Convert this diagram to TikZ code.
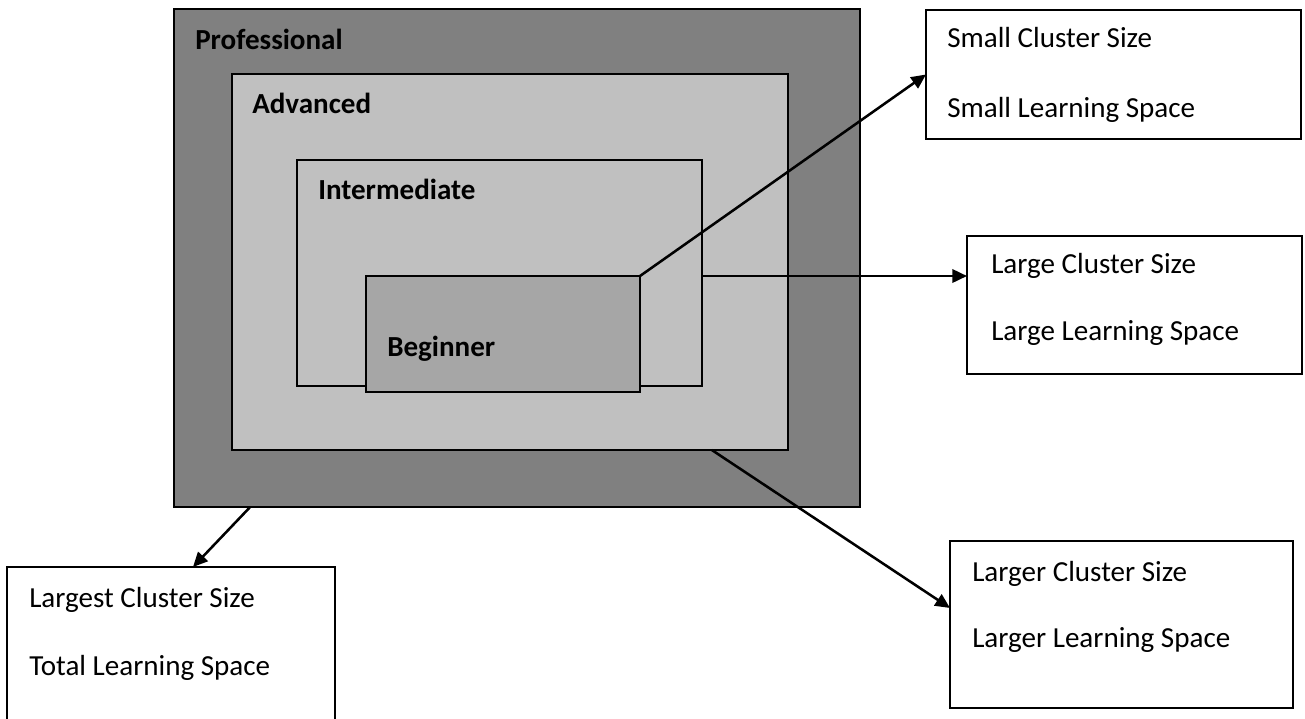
\documentclass[tikz,border=0pt]{standalone}
\usepackage{fontspec}
\setmainfont{Carlito}
\usetikzlibrary{fit,calc,arrows.meta}
\definecolor{profgray}{HTML}{808080}
\definecolor{advgray}{HTML}{C0C0C0}
\definecolor{beggray}{HTML}{A6A6A6}
\tikzset{
  box/.style={draw=black, line width=1.7pt, inner sep=0pt, outer sep=0pt, rectangle},
  lbl/.style={anchor=base west, inner sep=0pt, font=\fontsize{21.8}{26}\selectfont},
  blbl/.style={lbl, font=\fontsize{21.8}{26}\selectfont\bfseries},
  conn/.style={line width=1.9pt, -{Triangle[length=11pt,width=10pt]}}
}
\begin{document}
\begin{tikzpicture}[x=0.75pt, y=-0.75pt]
\useasboundingbox (0,0) rectangle (1305,718);
\clip (0,0) rectangle (1305,718);
% nested levels
\node[box, fill=profgray, fit={(174,9) (860,507)}] (prof) {};
\node[box, fill=advgray, fit={(232,74) (788,450)}] (adv) {};
\node[box, fill=advgray, fit={(297,160) (702,386)}] (inter) {};
\node[box, fill=beggray, fit={(366,276) (640,392)}] (beg) {};
\node[blbl] (tprof) at (195,49) {Professional};
\node[blbl] (tadv) at (252,113) {Advanced};
\node[blbl] (tint) at (318,199) {Intermediate};
\node[blbl] (tbeg) at (387,356) {Beginner};
% outcome boxes
\node[box, fill=white, fit={(926,10) (1301,139)}] (small) {};
\node[box, fill=white, fit={(967,236) (1302,374)}] (large) {};
\node[box, fill=white, fit={(950,541) (1293,708)}] (larger) {};
\node[box, fill=white, fit={(7,567) (335,740)}] (largest) {};
\node[lbl] (s1) at (947,47) {Small Cluster Size};
\node[lbl] (s2) at (947,117) {Small Learning Space};
\node[lbl] (l1) at (991,273) {Large Cluster Size};
\node[lbl] (l2) at (991,340) {Large Learning Space};
\node[lbl] (r1) at (972,581) {Larger Cluster Size};
\node[lbl] (r2) at (972,647) {Larger Learning Space};
\node[lbl] (t1) at (29,607) {Largest Cluster Size};
\node[lbl] (t2) at (29,675) {Total Learning Space};
% connectors
\draw[conn] (beg.north east) -- (small.west);
\draw[conn] ([yshift=-2.25pt]inter.east) -- ([yshift=-2.25pt]inter.east -| large.west);
\draw[conn] ($(adv.south west)!0.863!(adv.south east)$) -- ([yshift=12.4pt]larger.west);
\draw[conn] ($(prof.south west)!0.111!(prof.south east)$) -- ($(largest.north west)!0.567!(largest.north east)$);
\end{tikzpicture}
\end{document}
